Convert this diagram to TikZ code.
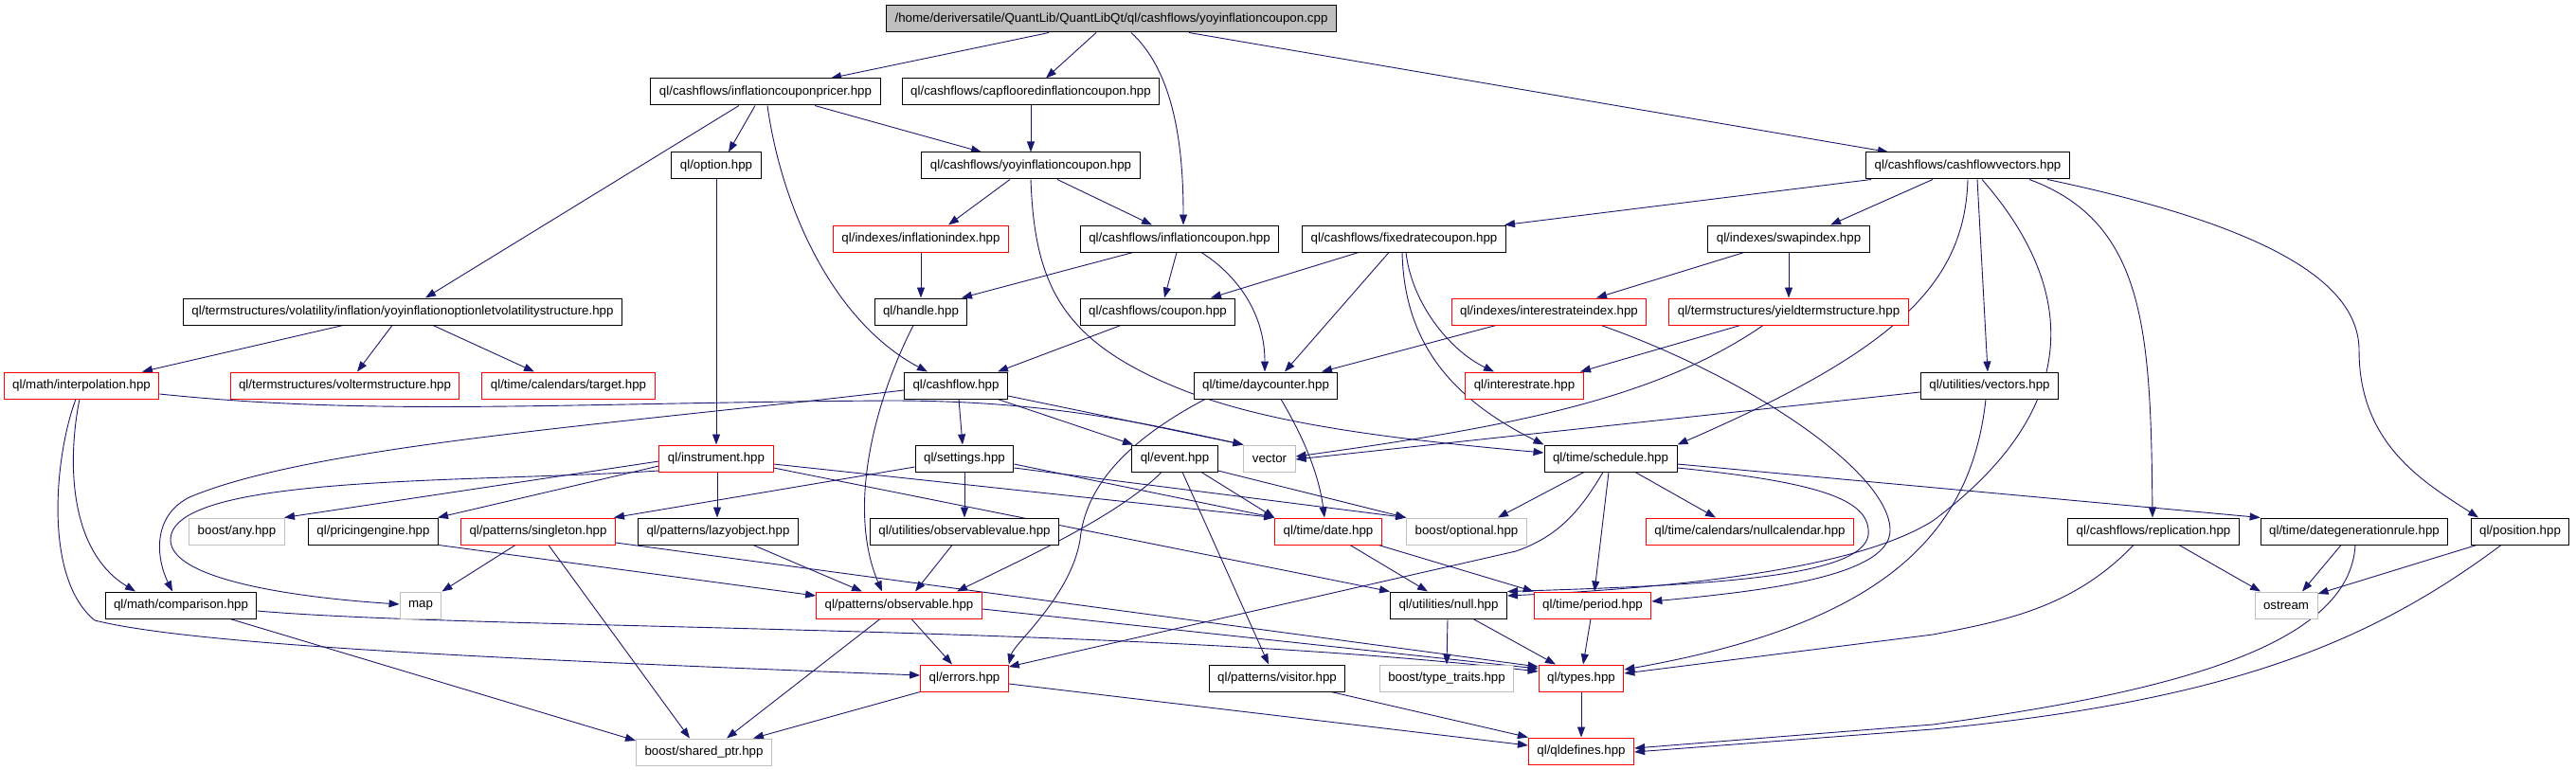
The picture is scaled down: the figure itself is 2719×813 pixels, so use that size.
\documentclass[tikz,border=0pt]{standalone}
\usepackage{fontspec}
\setmainfont{Liberation Sans}
\usetikzlibrary{arrows.meta,backgrounds}
\definecolor{edgec}{HTML}{191970}
\definecolor{grayb}{HTML}{BFBFBF}
\definecolor{redb}{HTML}{FF0000}
\tikzset{
  file/.style={draw=black, fill=white, rectangle, minimum height=28pt, inner xsep=9pt, inner ysep=0pt, line width=1pt, font=\fontsize{13.3}{15}\selectfont, text=black},
  redf/.style={file, draw=redb},
  extf/.style={file, draw=grayb},
  e/.style={draw=edgec, line width=0.9pt, -{Triangle[length=11pt,width=8pt]}}
}
\begin{document}
\begin{tikzpicture}[x=1pt,y=-1pt]
\useasboundingbox (0,0) rectangle (2719,813);
% nodes
\node[file, fill=grayb] (top) at (1173,20) {/home/deriversatile/QuantLib/QuantLibQt/ql/cashflows/yoyinflationcoupon.cpp};
\node[file] (pricer) at (808,97) {ql/cashflows/inflationcouponpricer.hpp};
\node[file] (capfl) at (1088,97) {ql/cashflows/capflooredinflationcoupon.hpp};
\node[file] (option) at (756,175) {ql/option.hpp};
\node[file] (yoyc) at (1088,175) {ql/cashflows/yoyinflationcoupon.hpp};
\node[file] (cfv) at (2077,175) {ql/cashflows/cashflowvectors.hpp};
\node[redf] (infidx) at (972,252) {ql/indexes/inflationindex.hpp};
\node[file] (infc) at (1245,252) {ql/cashflows/inflationcoupon.hpp};
\node[file] (fixed) at (1482,252) {ql/cashflows/fixedratecoupon.hpp};
\node[file] (swap) at (1888,252) {ql/indexes/swapindex.hpp};
\node[file] (yoyvol) at (425,329) {ql/termstructures/volatility/inflation/yoyinflationoptionletvolatilitystructure.hpp};
\node[file] (handle) at (972,329) {ql/handle.hpp};
\node[file] (coupon) at (1222,329) {ql/cashflows/coupon.hpp};
\node[redf] (irindex) at (1635,329) {ql/indexes/interestrateindex.hpp};
\node[redf] (yts) at (1888,329) {ql/termstructures/yieldtermstructure.hpp};
\node[redf] (interp) at (86,407) {ql/math/interpolation.hpp};
\node[redf] (volts) at (364,407) {ql/termstructures/voltermstructure.hpp};
\node[redf] (target) at (600,407) {ql/time/calendars/target.hpp};
\node[file] (cashflow) at (1009,407) {ql/cashflow.hpp};
\node[file] (daycounter) at (1336,407) {ql/time/daycounter.hpp};
\node[redf] (irate) at (1609,407) {ql/interestrate.hpp};
\node[file] (vectors) at (2100,407) {ql/utilities/vectors.hpp};
\node[redf] (instrument) at (756,484) {ql/instrument.hpp};
\node[file] (settings) at (1018,484) {ql/settings.hpp};
\node[file] (event) at (1240,484) {ql/event.hpp};
\node[extf] (vector) at (1340,484) {vector};
\node[file] (schedule) at (1700,484) {ql/time/schedule.hpp};
\node[extf] (any) at (250,561) {boost/any.hpp};
\node[file] (pricing) at (394,561) {ql/pricingengine.hpp};
\node[redf] (singleton) at (568,561) {ql/patterns/singleton.hpp};
\node[file] (lazy) at (758,561) {ql/patterns/lazyobject.hpp};
\node[file] (obsval) at (1018,561) {ql/utilities/observablevalue.hpp};
\node[redf] (date) at (1402,561) {ql/time/date.hpp};
\node[extf] (optional) at (1548,561) {boost/optional.hpp};
\node[redf] (nullcal) at (1847,561) {ql/time/calendars/nullcalendar.hpp};
\node[file] (replication) at (2273,561) {ql/cashflows/replication.hpp};
\node[file] (dgr) at (2485,561) {ql/time/dategenerationrule.hpp};
\node[file] (position) at (2660,561) {ql/position.hpp};
\node[file] (comparison) at (191,639) {ql/math/comparison.hpp};
\node[extf] (map) at (444,639) {map};
\node[redf] (observable) at (949,639) {ql/patterns/observable.hpp};
\node[file] (null) at (1529,639) {ql/utilities/null.hpp};
\node[redf] (period) at (1681,639) {ql/time/period.hpp};
\node[extf] (ostream) at (2413,639) {ostream};
\node[redf] (errors) at (1018,716) {ql/errors.hpp};
\node[file] (visitor) at (1348,716) {ql/patterns/visitor.hpp};
\node[extf] (typetraits) at (1527,716) {boost/type\_traits.hpp};
\node[redf] (types) at (1669,716) {ql/types.hpp};
\node[extf] (sharedptr) at (743,794) {boost/shared\_ptr.hpp};
\node[redf] (qldefines) at (1669,793) {ql/qldefines.hpp};
% edges
\begin{scope}[on background layer]
\draw[e] (top.south -| 1107,0) -- (pricer.north -| 877,0);
\draw[e] (top.south -| 1157,0) -- (capfl.north -| 1104,0);
\draw[e] (top.south -| 1194,0) .. controls (1238,75) and (1249,150) .. (infc.north -| 1249,0);
\draw[e] (top.south -| 1255,0) -- (cfv.north -| 1993,0);
\draw[e] (pricer.south -| 797,0) -- (option.north -| 769,0);
\draw[e] (pricer.south -| 860,0) -- (yoyc.north -| 1036,0);
\draw[e] (pricer.south -| 780,0) -- (yoyvol.north -| 449,0);
\draw[e] (pricer.south -| 810,0) .. controls (825,220) and (880,340) .. (cashflow.north -| 979,0);
\draw[e] (capfl) -- (yoyc);
\draw[e] (yoyc.south -| 1066,0) -- (infidx.north -| 1001,0);
\draw[e] (yoyc.south -| 1116,0) -- (infc.north -| 1216,0);
\draw[e] (yoyc.south -| 1088,0) .. controls (1092,300) and (1120,360) .. (1244,410) .. controls (1330,445) and (1450,462) .. (schedule.west |- 0,478);
\draw[e] (infidx) -- (handle);
\draw[e] (infc.south -| 1196,0) -- (handle.north -| 1015,0);
\draw[e] (infc.south -| 1242,0) -- (coupon.north -| 1229,0);
\draw[e] (infc.south -| 1268,0) .. controls (1305,290) and (1335,330) .. (daycounter.north -| 1335,0);
\draw[e] (cfv.south -| 1975,0) -- (fixed.north -| 1588,0);
\draw[e] (cfv.south -| 2040,0) -- (swap.north -| 1932,0);
\draw[e] (cfv.south -| 2087,0) -- (vectors.north -| 2098,0);
\draw[e] (cfv.south -| 2077,0) .. controls (2074,300) and (2000,370) .. (schedule.north east);
\draw[e] (cfv.south -| 2092,0) .. controls (2180,290) and (2215,420) .. (2040,550) .. controls (1960,600) and (1780,620) .. (null.east |- 0,629);
\draw[e] (cfv.south -| 2142,0) .. controls (2265,235) and (2270,350) .. (replication.north -| 2272,0);
\draw[e] (cfv.south -| 2161,0) .. controls (2400,240) and (2490,300) .. (2490,370) .. controls (2490,470) and (2560,510) .. (position.north -| 2616,0);
\draw[e] (fixed.south -| 1434,0) -- (coupon.north -| 1278,0);
\draw[e] (fixed.south -| 1466,0) -- (daycounter.north -| 1356,0);
\draw[e] (fixed.south -| 1484,0) .. controls (1490,320) and (1530,370) .. (irate.north -| 1577,0);
\draw[e] (fixed.south -| 1480,0) .. controls (1482,360) and (1530,420) .. (schedule.north west);
\draw[e] (swap.south -| 1841,0) -- (irindex.north -| 1685,0);
\draw[e] (swap) -- (yts);
\draw[e] (yoyvol.south -| 362,0) -- (interp.north -| 150,0);
\draw[e] (yoyvol.south -| 414,0) -- (volts.north -| 377,0);
\draw[e] (yoyvol.south -| 457,0) -- (target.north -| 564,0);
\draw[e] (handle.south -| 964,0) .. controls (920,430) and (895,540) .. (observable.north -| 931,0);
\draw[e] (coupon.south -| 1183,0) -- (cashflow.north -| 1053,0);
\draw[e] (cashflow.east |- 0,418) -- (vector.north west);
\draw[e] (cashflow.south -| 1053,0) -- (event.north -| 1196,0);
\draw[e] (cashflow.south -| 1012,0) -- (settings.north -| 1016,0);
\draw[e] (cashflow.west |- 0,412) .. controls (650,448) and (330,470) .. (200,525) .. controls (160,545) and (165,590) .. (comparison.north -| 182,0);
\draw[e] (interp.east |- 0,416) .. controls (400,440) and (600,425) .. (940,423) .. controls (1100,423) and (1200,445) .. (vector.north west);
\draw[e] (interp.south -| 84,0) .. controls (72,480) and (70,580) .. (comparison.north -| 143,0);
\draw[e] (interp.south -| 80,0) .. controls (58,480) and (45,610) .. (100,655) .. controls (200,680) and (500,695) .. (errors.west |- 0,713);
\draw[e] (daycounter.south -| 1352,0) .. controls (1375,460) and (1392,500) .. (date.north -| 1398,0);
\draw[e] (daycounter.south -| 1272,0) .. controls (1180,470) and (1145,520) .. (1140,570) .. controls (1130,630) and (1070,680) .. (errors.north east);
\draw[e] (irindex.south -| 1579,0) -- (daycounter.north -| 1395,0);
\draw[e] (irindex.south -| 1690,0) .. controls (1850,400) and (1995,500) .. (1995,560) .. controls (1995,610) and (1850,625) .. (period.east |- 0,635);
\draw[e] (yts.south -| 1837,0) -- (irate.north -| 1668,0);
\draw[e] (yts.south -| 1861,0) .. controls (1750,420) and (1600,450) .. (vector.east |- 0,482);
\draw[e] (vectors.west |- 0,414) -- (vector.east |- 0,485);
\draw[e] (vectors.south -| 2096,0) .. controls (2080,570) and (1980,660) .. (types.east |- 0,707);
\draw[e] (schedule.south -| 1672,0) -- (optional.north -| 1581,0);
\draw[e] (schedule.south -| 1692,0) .. controls (1665,545) and (1640,568) .. (1600,582) -- (errors.east |- 0,704);
\draw[e] (schedule.south -| 1698,0) -- (period.north -| 1683,0);
\draw[e] (schedule.south -| 1726,0) -- (nullcal.north -| 1811,0);
\draw[e] (schedule.east |- 0,490) -- (dgr.north west);
\draw[e] (schedule.east |- 0,494) .. controls (1930,510) and (1975,530) .. (1972,565) .. controls (1965,610) and (1800,618) .. (null.north east);
\draw[e] (instrument.south -| 757,0) -- (lazy.north -| 757,0);
\draw[e] (instrument.west |- 0,487) -- (any.north -| 300,0);
\draw[e] (instrument.west |- 0,492) -- (pricing.north -| 462,0);
\draw[e] (instrument.west |- 0,497) .. controls (500,510) and (180,500) .. (180,570) .. controls (180,610) and (300,630) .. (map.west |- 0,638);
\draw[e] (instrument.east |- 0,490) -- (date.north west);
\draw[e] (instrument.east |- 0,494) -- (null.north west);
\draw[e] (option) -- (instrument);
\draw[e] (settings.west |- 0,493) -- (singleton.north -| 648,0);
\draw[e] (settings) -- (obsval);
\draw[e] (settings.east |- 0,490) -- (date.north west);
\draw[e] (settings.east |- 0,494) -- (optional.north west);
\draw[e] (event.south -| 1226,0) .. controls (1180,545) and (1080,590) .. (observable.north -| 1010,0);
\draw[e] (event.south -| 1268,0) -- (date.north west);
\draw[e] (event.south -| 1248,0) -- (visitor.north -| 1339,0);
\draw[e] (event.east |- 0,497) -- (optional.north west);
\draw[e] (singleton.south -| 544,0) -- (map.north east);
\draw[e] (singleton.south -| 579,0) -- (sharedptr.north -| 728,0);
\draw[e] (singleton.east |- 0,573) -- (types.west |- 0,704);
\draw[e] (pricing.south east) -- (observable.west |- 0,629);
\draw[e] (lazy.south -| 795,0) -- (observable.north -| 910,0);
\draw[e] (obsval.south -| 1005,0) -- (observable.north -| 966,0);
\draw[e] (observable.south -| 962,0) -- (errors.north -| 1005,0);
\draw[e] (observable.south -| 929,0) -- (sharedptr.north -| 767,0);
\draw[e] (observable.east |- 0,643) -- (types.west |- 0,706);
\draw[e] (comparison.east |- 0,645) .. controls (500,665) and (1200,660) .. (types.west |- 0,709);
\draw[e] (comparison.south -| 243,0) -- (sharedptr.west |- 0,782);
\draw[e] (errors.south west) -- (sharedptr.north -| 795,0);
\draw[e] (errors.east |- 0,722) -- (qldefines.west |- 0,787);
\draw[e] (date.south -| 1425,0) -- (null.north -| 1507,0);
\draw[e] (date.south -| 1455,0) -- (period.north west);
\draw[e] (null.south -| 1528,0) -- (typetraits.north -| 1527,0);
\draw[e] (null.south -| 1555,0) -- (types.north -| 1642,0);
\draw[e] (period.south -| 1679,0) -- (types.north -| 1671,0);
\draw[e] (types) -- (qldefines);
\draw[e] (visitor.south -| 1405,0) -- (qldefines.north west);
\draw[e] (replication.south -| 2300,0) -- (ostream.north -| 2386,0);
\draw[e] (replication.south -| 2252,0) .. controls (2190,640) and (2120,655) .. (2040,670) -- (types.east |- 0,711);
\draw[e] (dgr.south -| 2471,0) -- (ostream.north -| 2430,0);
\draw[e] (dgr.south -| 2486,0) .. controls (2480,680) and (2300,730) .. (2040,765) -- (qldefines.east |- 0,790);
\draw[e] (position.south -| 2614,0) -- (ostream.east |- 0,627);
\draw[e] (position.south -| 2640,0) .. controls (2500,680) and (2350,740) .. (2040,770) -- (qldefines.east |- 0,794);
\end{scope}
\end{tikzpicture}
\end{document}
